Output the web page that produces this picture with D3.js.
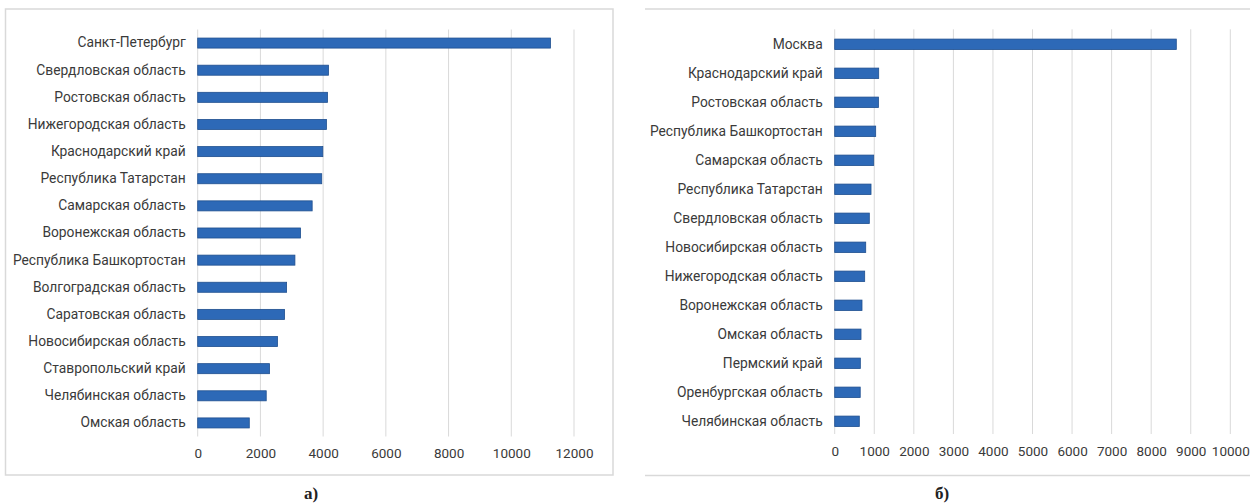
<!DOCTYPE html>
<html><head><meta charset="utf-8">
<script src="https://cdn.jsdelivr.net/npm/d3@7"></script>
<style>
html,body{margin:0;padding:0;background:#fff;}
svg{display:block;}
</style></head>
<body>
<svg id="chart" width="1250" height="504"></svg>
<script>
// Panel а)
const regionsA = ["Санкт-Петербург","Свердловская область","Ростовская область","Нижегородская область","Краснодарский край","Республика Татарстан","Самарская область","Воронежская область","Республика Башкортостан","Волгоградская область","Саратовская область","Новосибирская область","Ставропольский край","Челябинская область","Омская область"];
const valuesA = [11250,4170,4140,4105,3990,3955,3650,3280,3100,2835,2770,2545,2290,2185,1645];
const ticksA = [0,2000,4000,6000,8000,10000,12000];

// Panel б)
const regionsB = ["Москва","Краснодарский край","Ростовская область","Республика Башкортостан","Самарская область","Республика Татарстан","Свердловская область","Новосибирская область","Нижегородская область","Воронежская область","Омская область","Пермский край","Оренбургская область","Челябинская область"];
const valuesB = [8635,1112,1105,1036,986,918,875,784,758,690,665,648,645,622];
const ticksB = [0,1000,2000,3000,4000,5000,6000,7000,8000,9000,10000];

const captions = ["а)","б)"];

const svg = d3.select("#chart");
const FONT = "Roboto, 'Noto Sans', sans-serif";
const BAR_FILL = "#2d69b7", BAR_STROKE = "#1f4f8f", GRID = "#d9d9d9", TXT = "#3a3a3a";

// Frames
svg.append("rect").attr("x",5.5).attr("y",9).attr("width",607.5).attr("height",466)
  .attr("fill","none").attr("stroke","#d9d9d9").attr("stroke-width",1.5);
svg.append("line").attr("x1",645).attr("x2",1250).attr("y1",9).attr("y2",9).attr("stroke","#d9d9d9").attr("stroke-width",1.5);
svg.append("line").attr("x1",645).attr("x2",1250).attr("y1",475.5).attr("y2",475.5).attr("stroke","#d9d9d9").attr("stroke-width",1.5);

function panel(cats, vals, ticks, x0, x1, y0, y1, gy0, gy1, pad){
  const x = d3.scaleLinear().domain([0, ticks[ticks.length-1]]).range([x0, x1]);
  const y = d3.scaleBand().domain(cats).range([y0, y1]).paddingInner(pad).paddingOuter(pad/2);
  const g = svg.append("g");
  // gridlines
  g.append("g").selectAll("line").data(ticks).join("line")
    .attr("x1",d=>x(d)).attr("x2",d=>x(d)).attr("y1",gy0).attr("y2",gy1)
    .attr("stroke",GRID).attr("stroke-width",1);
  // x axis tick labels
  const ax = g.append("g").attr("transform",`translate(0,${gy1})`)
    .call(d3.axisBottom(x).tickValues(ticks).tickSize(0).tickPadding(12).tickFormat(d3.format("d")));
  ax.select(".domain").remove();
  ax.selectAll("text").attr("font-family",FONT).attr("font-size",13.5).attr("fill",TXT);
  // y axis labels
  const ay = g.append("g").attr("transform",`translate(${x0},0)`)
    .call(d3.axisLeft(y).tickSize(0).tickPadding(12));
  ay.select(".domain").remove();
  ay.selectAll("text").attr("font-family",FONT).attr("font-size",13.8).attr("fill",TXT);
  // bars
  g.append("g").selectAll("rect").data(cats).join("rect")
    .attr("x",x(0)).attr("y",(d)=>y(d))
    .attr("width",(d,i)=>x(vals[i])-x(0)).attr("height",y.bandwidth())
    .attr("fill",BAR_FILL).attr("stroke",BAR_STROKE).attr("stroke-width",0.8);
}

panel(regionsA, valuesA, ticksA, 197.7, 574, 29.5, 436.5, 29.5, 436.5, 0.63);
panel(regionsB, valuesB, ticksB, 834.7, 1230.3, 29.8, 435.8, 29.3, 434, 0.64);

svg.selectAll("text.cap").data(captions).join("text").attr("class","cap")
  .attr("x",(d,i)=>[311,942][i]).attr("y",499)
  .attr("text-anchor","middle").attr("font-family","'Liberation Serif', 'DejaVu Serif', serif")
  .attr("font-weight","bold").attr("font-size",17).attr("fill","#222")
  .text(d=>d);
</script>
</body></html>
